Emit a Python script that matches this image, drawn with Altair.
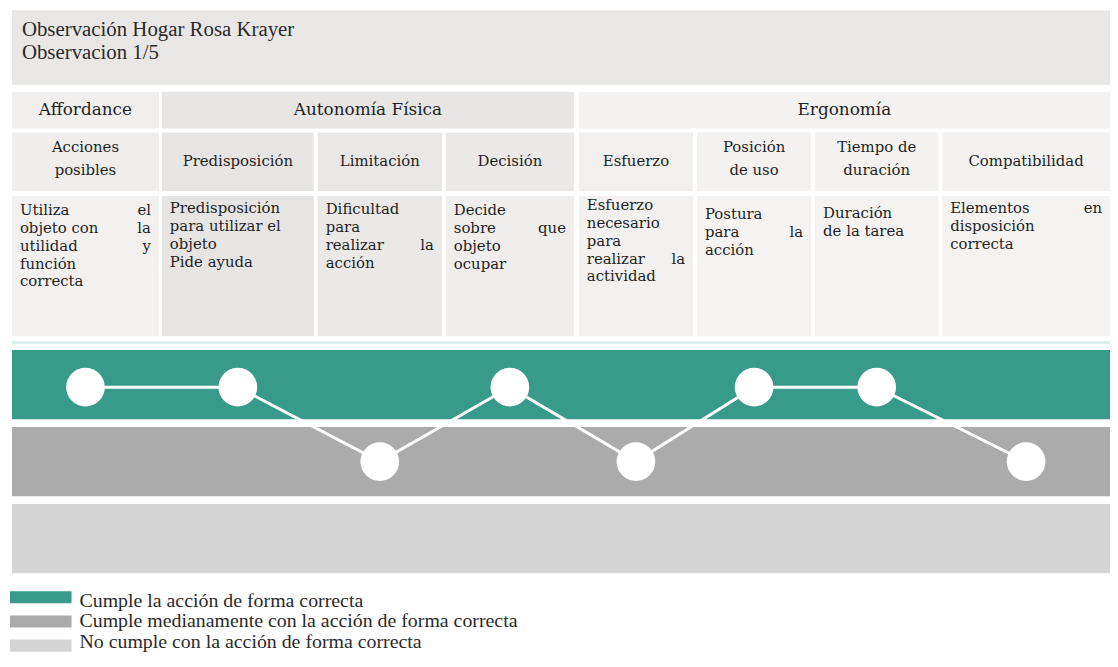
import altair as alt
import pandas as pd

# ---------------- data ----------------
title_lines = ["Observación Hogar Rosa Krayer", "Observacion 1/5"]
groups = ["Affordance", "Autonomía Física", "Ergonomía"]
criteria = ["Acciones posibles", "Predisposición", "Limitación", "Decisión",
            "Esfuerzo", "Posición de uso", "Tiempo de duración", "Compatibilidad"]
criteria_header = ["Acciones\nposibles", "Predisposición", "Limitación", "Decisión",
                   "Esfuerzo", "Posición\nde uso", "Tiempo de\nduración", "Compatibilidad"]
criteria_group = ["Affordance", "Autonomía Física", "Autonomía Física", "Autonomía Física",
                  "Ergonomía", "Ergonomía", "Ergonomía", "Ergonomía"]
descriptions = [
    ["Utiliza el", "objeto con la", "utilidad y", "función", "correcta"],
    ["Predisposición", "para utilizar el", "objeto", "Pide ayuda"],
    ["Dificultad", "para", "realizar la", "acción"],
    ["Decide", "sobre que", "objeto", "ocupar"],
    ["Esfuerzo", "necesario", "para", "realizar la", "actividad"],
    ["Postura", "para la", "acción"],
    ["Duración", "de la tarea"],
    ["Elementos en", "disposición", "correcta"],
]
justified = [[1, 1, 1, 0, 0], [0, 0, 0, 0], [0, 0, 1, 0], [0, 1, 0, 0],
             [0, 0, 0, 1, 0], [0, 1, 0], [0, 0], [1, 0, 0]]
levels = ["Cumple la acción de forma correcta",
          "Cumple medianamente con la acción de forma correcta",
          "No cumple con la acción de forma correcta"]
observed = [levels[0], levels[0], levels[1], levels[0],
            levels[1], levels[0], levels[0], levels[1]]

# ---------------- layout / style ----------------
level_colors = ["#389b8a", "#ababab", "#d4d4d4"]
W, H = 1110, 659
OX, OY = 8, 8
col_edges = [(12, 160), (163, 316), (320, 445), (449, 578),
             (583, 698), (702, 817), (821, 945), (949, 1118)]
desc_top = [209, 207, 208, 209, 204, 213, 212, 207]
RIGHT = 1118
TITLE_Y = (8, 83)
HEAD_Y = (90, 127)
SUB_Y = (131, 190)
DESC_Y = (195, 336)
BAND_RANGE = (350, 575)
LEG_RANGE = (593, 654)
TXT = "#1f1f1f"
head_fill = {"Affordance": "#f0efee", "Autonomía Física": "#e7e6e5", "Ergonomía": "#f3f2f1"}
sub_fill = ["#efeeed", "#e6e5e4", "#e8e7e6", "#eae9e8", "#f1f0ef", "#f3f2f1", "#f3f2f1", "#f3f2f1"]
desc_fill = ["#f2f1f0", "#e6e5e4", "#eae9e8", "#efeeed", "#f2f1f0", "#f4f3f2", "#f4f3f2", "#f4f3f2"]
SERIF = "Liberation Serif"
SLAB = "DejaVu Serif"


def px(v):
    return v - OX


def py(v):
    return v - OY


xs = alt.Scale(domain=[0, W], nice=False, zero=False)
ys = alt.Scale(domain=[0, H], nice=False, zero=False, reverse=True)

# background cells
cells = [dict(x=px(12), x2=px(RIGHT), y=py(TITLE_Y[0]), y2=py(TITLE_Y[1]), fill="#e8e7e6")]
for g in groups:
    idx = [i for i, cg in enumerate(criteria_group) if cg == g]
    x0 = col_edges[idx[0]][0]
    x1 = col_edges[idx[-1]][1]
    cells.append(dict(x=px(x0), x2=px(x1), y=py(HEAD_Y[0]), y2=py(HEAD_Y[1]), fill=head_fill[g]))
for i in range(len(criteria)):
    x0, x1 = col_edges[i]
    cells.append(dict(x=px(x0), x2=px(x1), y=py(SUB_Y[0]), y2=py(SUB_Y[1]), fill=sub_fill[i]))
    cells.append(dict(x=px(x0), x2=px(x1), y=py(DESC_Y[0]), y2=py(DESC_Y[1]), fill=desc_fill[i]))
cells.append(dict(x=px(12), x2=px(RIGHT), y=py(341), y2=py(344), fill="#dcefec"))
cells_df = pd.DataFrame(cells)

cell_layer = alt.Chart(cells_df).mark_rect().encode(
    x=alt.X("x:Q", scale=xs, axis=None), x2="x2:Q",
    y=alt.Y("y:Q", scale=ys, axis=None), y2="y2:Q",
    color=alt.Color("fill:N", scale=None),
)

# title text
title_df = pd.DataFrame({"t": title_lines, "x": [px(22)] * 2, "y": [py(28), py(51)]})
title_layer = alt.Chart(title_df).mark_text(
    align="left", baseline="middle", font=SERIF, fontSize=21, color="#2a2a2a"
).encode(x=alt.X("x:Q", scale=xs, axis=None), y=alt.Y("y:Q", scale=ys, axis=None), text="t:N")

# group headers
gh = []
for g in groups:
    idx = [i for i, cg in enumerate(criteria_group) if cg == g]
    x0 = col_edges[idx[0]][0]
    x1 = col_edges[idx[-1]][1]
    gh.append(dict(t=g, x=px((x0 + x1) / 2), y=py((HEAD_Y[0] + HEAD_Y[1]) / 2)))
group_layer = alt.Chart(pd.DataFrame(gh)).mark_text(
    align="center", baseline="middle", font=SLAB, fontSize=17, color=TXT
).encode(x=alt.X("x:Q", scale=xs, axis=None), y=alt.Y("y:Q", scale=ys, axis=None), text="t:N")

# sub headers
sh = []
for i, lab in enumerate(criteria_header):
    x0, x1 = col_edges[i]
    nl = lab.count("\n")
    sh.append(dict(t=lab, x=px((x0 + x1) / 2), y=py((SUB_Y[0] + SUB_Y[1]) / 2 - 1 - nl * 14)))
sub_layer = alt.Chart(pd.DataFrame(sh)).mark_text(
    align="center", baseline="middle", font=SLAB, fontSize=15, color=TXT,
    lineBreak="\n", lineHeight=23
).encode(x=alt.X("x:Q", scale=xs, axis=None), y=alt.Y("y:Q", scale=ys, axis=None), text="t:N")

# descriptions
left_rows, right_rows = [], []
for i, lines in enumerate(descriptions):
    x0, x1 = col_edges[i]
    for j, line in enumerate(lines):
        yy = py(desc_top[i] + j * 18)
        words = line.split(" ")
        if justified[i][j] and len(words) > 1:
            left_rows.append(dict(t=" ".join(words[:-1]), x=px(x0 + 8), y=yy))
            right_rows.append(dict(t=words[-1], x=px(x1 - 8), y=yy))
        else:
            left_rows.append(dict(t=line, x=px(x0 + 8), y=yy))
desc_left = alt.Chart(pd.DataFrame(left_rows)).mark_text(
    align="left", baseline="middle", font=SLAB, fontSize=15, color=TXT
).encode(x=alt.X("x:Q", scale=xs, axis=None), y=alt.Y("y:Q", scale=ys, axis=None), text="t:N")
desc_right = alt.Chart(pd.DataFrame(right_rows)).mark_text(
    align="right", baseline="middle", font=SLAB, fontSize=15, color=TXT
).encode(x=alt.X("x:Q", scale=xs, axis=None), y=alt.Y("y:Q", scale=ys, axis=None), text="t:N")

# level bands
band_scale = alt.Scale(domain=levels, range=[py(BAND_RANGE[0]), py(BAND_RANGE[1])],
                       paddingInner=0.1, paddingOuter=0)
bands_df = pd.DataFrame({"level": levels, "x": [px(12)] * 3, "x2": [px(RIGHT)] * 3})
band_layer = alt.Chart(bands_df).mark_rect().encode(
    x=alt.X("x:Q", scale=xs, axis=None), x2="x2:Q",
    y=alt.Y("level:N", scale=band_scale, axis=None),
    color=alt.Color("level:N", scale=alt.Scale(domain=levels, range=level_colors), legend=None),
)

# observations
obs_df = pd.DataFrame({
    "criterio": criteria,
    "order": list(range(len(criteria))),
    "level": observed,
    "x": [px((a + b) / 2) for a, b in col_edges],
})
line_layer = alt.Chart(obs_df).mark_line(color="white", strokeWidth=3).encode(
    x=alt.X("x:Q", scale=xs, axis=None),
    y=alt.Y("level:N", scale=band_scale, axis=None),
    order="order:Q",
)
point_layer = alt.Chart(obs_df).mark_circle(color="white", opacity=1, size=1520).encode(
    x=alt.X("x:Q", scale=xs, axis=None),
    y=alt.Y("level:N", scale=band_scale, axis=None),
)

# legend
leg_scale = alt.Scale(domain=levels, range=[py(LEG_RANGE[0]), py(LEG_RANGE[1])],
                      paddingInner=0.5, paddingOuter=0)
leg_df = pd.DataFrame({"level": levels, "x": [px(10)] * 3, "x2": [px(72)] * 3, "tx": [px(80)] * 3})
leg_sw = alt.Chart(leg_df).mark_rect().encode(
    x=alt.X("x:Q", scale=xs, axis=None), x2="x2:Q",
    y=alt.Y("level:N", scale=leg_scale, axis=None),
    color=alt.Color("level:N", scale=alt.Scale(domain=levels, range=level_colors), legend=None),
)
leg_tx = alt.Chart(leg_df).mark_text(
    align="left", baseline="middle", font=SERIF, fontSize=20, color="#2a2a2a"
).encode(
    x=alt.X("tx:Q", scale=xs, axis=None),
    y=alt.Y("level:N", scale=leg_scale, axis=None),
    text="level:N",
)

chart = alt.layer(
    cell_layer, title_layer, group_layer, sub_layer, desc_left, desc_right,
    band_layer, line_layer, point_layer, leg_sw, leg_tx,
).resolve_scale(y="independent", color="independent").properties(
    width=W, height=H, padding=0, autosize=alt.AutoSizeParams(type="none"),
    background="white",
).configure_view(stroke=None)

chart.save("out.html", embed_options={"renderer": "svg", "actions": False})
